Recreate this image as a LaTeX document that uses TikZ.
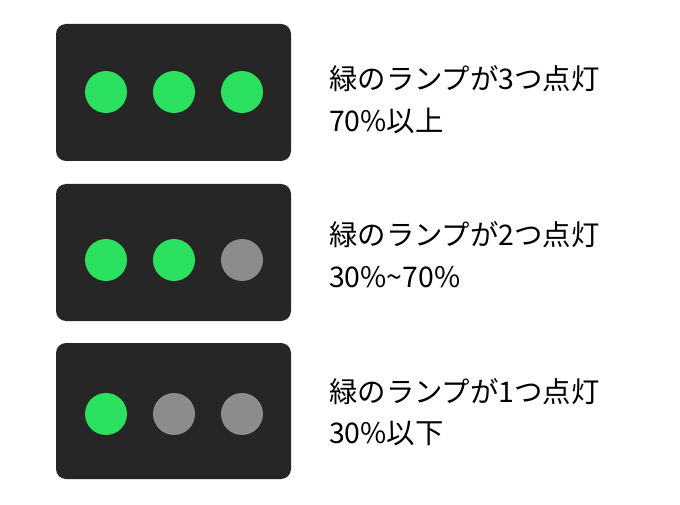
\documentclass[tikz,border=0pt]{standalone}
\usepackage{fontspec}
\newfontfamily\jp{Noto Sans CJK JP}
\definecolor{panel}{HTML}{262626}
\definecolor{lampon}{HTML}{2AE05E}
\definecolor{lampoff}{HTML}{8C8C8C}
\begin{document}
\begin{tikzpicture}[x=1pt,y=-1pt,
  panelbox/.style={fill=panel,rounded corners=10pt},
  lampon/.style={circle,fill=lampon,minimum size=42pt,inner sep=0pt},
  lampoff/.style={circle,fill=lampoff,minimum size=42pt,inner sep=0pt},
  label/.style={anchor=base west,inner sep=0pt,font=\jp\fontsize{28.4}{34}\selectfont,text=black}]
\useasboundingbox[fill=white] (0,0) rectangle (680,505);
% row 1
\fill[panelbox] (56,24) rectangle (291,161);
\node[lampon] (a1) at (106,92) {};
\node[lampon] (a2) at (174,92) {};
\node[lampon] (a3) at (242,92) {};
\node[label] (t1a) at (329,90) {緑のランプが3つ点灯};
\node[label] (t1b) at (329,132) {70\%以上};
% row 2
\fill[panelbox] (56,184) rectangle (291,321);
\node[lampon] (b1) at (106,260) {};
\node[lampon] (b2) at (174,260) {};
\node[lampoff] (b3) at (242,260) {};
\node[label] (t2a) at (329,246) {緑のランプが2つ点灯};
\node[label] (t2b) at (329,287) {30\%\textasciitilde70\%};
% row 3
\fill[panelbox] (56,343) rectangle (291,479);
\node[lampon] (c1) at (106,414) {};
\node[lampoff] (c2) at (174,414) {};
\node[lampoff] (c3) at (242,414) {};
\node[label] (t3a) at (329,402) {緑のランプが1つ点灯};
\node[label] (t3b) at (329,443) {30\%以下};
\end{tikzpicture}
\end{document}
